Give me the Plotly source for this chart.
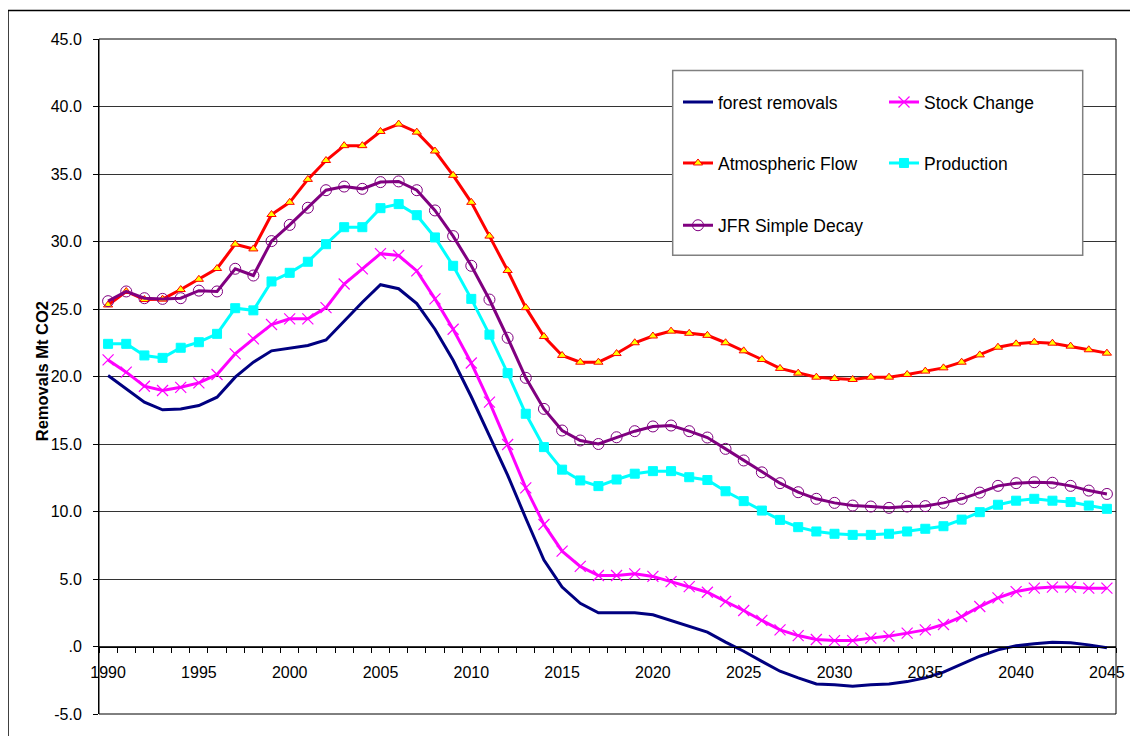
import plotly.graph_objects as go

years = list(range(1990, 2046))

forest_removals = [
    20.07, 19.09, 18.1, 17.53, 17.6, 17.85, 18.47, 19.95, 21.06, 21.9,
    22.1, 22.3, 22.7, 24.1, 25.5, 26.8, 26.5, 25.4, 23.5, 21.2,
    18.5, 15.6, 12.7, 9.5, 6.4, 4.4, 3.2, 2.5, 2.5, 2.5,
    2.35, 1.93, 1.48, 1.06, 0.32, -0.35, -1.1, -1.83, -2.32, -2.77,
    -2.84, -2.94, -2.84, -2.77, -2.6, -2.32, -1.9, -1.28, -0.72, -0.25,
    0.05, 0.2, 0.32, 0.27, 0.12, -0.1]

stock_change = [
    21.23, 20.32, 19.28, 18.96, 19.2, 19.53, 20.15, 21.68, 22.79, 23.85,
    24.27, 24.27, 25.1, 26.85, 27.97, 29.1, 28.96, 27.82, 25.75, 23.5,
    21.0, 18.1, 14.96, 11.75, 9.04, 7.06, 5.93, 5.26, 5.26, 5.38,
    5.19, 4.81, 4.44, 4.02, 3.33, 2.67, 1.93, 1.23, 0.81, 0.52,
    0.44, 0.44, 0.62, 0.77, 0.99, 1.23, 1.63, 2.22, 2.96, 3.6,
    4.07, 4.32, 4.4, 4.4, 4.32, 4.32]

atmospheric_flow = [
    25.3, 26.3, 25.7, 25.73, 26.44, 27.2, 28.0, 29.8, 29.45, 32.0,
    32.9, 34.6, 36.0, 37.1, 37.1, 38.15, 38.7, 38.1, 36.7, 34.9,
    32.9, 30.4, 27.85, 25.1, 22.96, 21.56, 21.06, 21.06, 21.7, 22.5,
    23.0, 23.36, 23.2, 23.05, 22.5, 21.9, 21.26, 20.6, 20.25, 19.95,
    19.85, 19.78, 19.95, 19.95, 20.15, 20.4, 20.64, 21.06, 21.6, 22.17,
    22.42, 22.54, 22.47, 22.25, 21.98, 21.73]

production = [
    22.42, 22.42, 21.56, 21.38, 22.13, 22.54, 23.16, 25.06, 24.9, 27.04,
    27.68, 28.5, 29.8, 31.06, 31.06, 32.47, 32.77, 31.95, 30.3, 28.2,
    25.75, 23.1, 20.25, 17.24, 14.77, 13.1, 12.3, 11.88, 12.37, 12.8,
    12.99, 12.99, 12.54, 12.33, 11.5, 10.77, 10.07, 9.38, 8.84, 8.52,
    8.35, 8.27, 8.27, 8.35, 8.52, 8.72, 8.91, 9.4, 9.95, 10.5,
    10.8, 10.94, 10.8, 10.7, 10.44, 10.2]

jfr_simple_decay = [
    25.58, 26.3, 25.8, 25.75, 25.8, 26.36, 26.3, 27.98, 27.48, 30.03,
    31.23, 32.5, 33.8, 34.07, 33.9, 34.4, 34.45, 33.8, 32.3, 30.4,
    28.2, 25.7, 22.87, 19.9, 17.6, 16.0, 15.26, 15.0, 15.5, 15.95,
    16.3, 16.37, 15.95, 15.48, 14.64, 13.78, 12.9, 12.1, 11.43, 10.94,
    10.64, 10.44, 10.37, 10.27, 10.37, 10.4, 10.64, 10.94, 11.4, 11.9,
    12.1, 12.17, 12.13, 11.9, 11.55, 11.3]

x_tick_vals = [1990, 1995, 2000, 2005, 2010, 2015, 2020, 2025, 2030, 2035, 2040, 2045]
y_tick_vals = [-5, 0, 5, 10, 15, 20, 25, 30, 35, 40, 45]
y_tick_text = ["-5.0", ".0", "5.0", "10.0", "15.0", "20.0", "25.0", "30.0", "35.0", "40.0", "45.0"]
y_title = "Removals Mt CO2"

FONT = "Liberation Sans, Arial, sans-serif"

fig = go.Figure()
fig.add_trace(go.Scatter(
    x=years, y=forest_removals, name="forest removals", mode="lines",
    line=dict(color="#000080", width=3), legend="legend"))
fig.add_trace(go.Scatter(
    x=years, y=stock_change, name="Stock Change", mode="lines+markers",
    line=dict(color="#FF00FF", width=3),
    marker=dict(symbol="x-thin-open", size=11, color="#FF00FF",
                line=dict(color="#FF00FF", width=1.2)), legend="legend"))
fig.add_trace(go.Scatter(
    x=years, y=atmospheric_flow, name="Atmospheric Flow", mode="lines+markers",
    line=dict(color="#FF0000", width=3),
    marker=dict(symbol="triangle-up", size=8, color="#FFFF00",
                line=dict(color="#FF0000", width=1)), legend="legend2"))
fig.add_trace(go.Scatter(
    x=years, y=production, name="Production", mode="lines+markers",
    line=dict(color="#00FFFF", width=3),
    marker=dict(symbol="square", size=9, color="#00FFFF",
                line=dict(color="#00FFFF", width=1)), legend="legend2"))
fig.add_trace(go.Scatter(
    x=years, y=jfr_simple_decay, name="JFR Simple Decay", mode="lines+markers",
    line=dict(color="#800080", width=3),
    marker=dict(symbol="circle-open", size=11, color="#800080",
                line=dict(color="#800080", width=1)), legend="legend3"))

# page geometry (the page body has an 8px default margin)
OFF = 8
W, H = 1138 - OFF, 736 - OFF
PL, PR, PT, PB = 99, 1116, 38.5, 714  # plot area in page pixels
L, R, T, B = PL - OFF, (1138 - PR), PT - OFF, 736 - PB
pw, ph = W - L - R, H - T - B

def px_x(p):
    return (p - OFF - L) / pw

def px_y(p):
    return (H - B - (p - OFF)) / ph

legend_common = dict(orientation="h", entrywidth=161, entrywidthmode="pixels",
                     bgcolor="rgba(0,0,0,0)", borderwidth=0,
                     font=dict(family=FONT, size=17.5, color="black"),
                     xanchor="left", yanchor="middle", x=px_x(678))

fig.update_layout(
    width=W, height=H,
    margin=dict(l=L, r=R, t=T, b=B, pad=0),
    paper_bgcolor="white", plot_bgcolor="white",
    font=dict(family=FONT, size=16, color="black"),
    showlegend=True,
    legend=dict(legend_common, y=px_y(101.7)),
    legend2=dict(legend_common, y=px_y(162.7)),
    legend3=dict(legend_common, y=px_y(225)),
    xaxis=dict(
        range=[1989.5, 2045.5], tickmode="array", tickvals=x_tick_vals,
        ticks="outside", ticklen=0, showgrid=False, zeroline=False,
        showline=True, linecolor="black", linewidth=1,
        anchor="free", position=0.1, ticklabelstandoff=11,
        tickfont=dict(family=FONT, size=16, color="black"),
        minor=dict(tick0=1989.5, dtick=1, ticks="outside", ticklen=5,
                   tickcolor="black", tickwidth=1, showgrid=False),
    ),
    yaxis=dict(
        range=[-5, 45], tickmode="array", tickvals=y_tick_vals, ticktext=y_tick_text,
        ticks="outside", ticklen=5, tickcolor="black",
        showgrid=True, gridcolor="#333333", gridwidth=1, zeroline=False,
        showline=True, linecolor="black", linewidth=1, ticklabelstandoff=8,
        tickfont=dict(family=FONT, size=16, color="black"),
    ),
    annotations=[
        dict(text="<b>" + y_title + "</b>", textangle=-90, showarrow=False,
             xref="paper", yref="paper", x=px_x(42), y=px_y(371),
             xanchor="center", yanchor="middle",
             font=dict(family=FONT, size=16.5, color="black")),
    ],
    shapes=[
        dict(type="rect", xref="paper", yref="paper", x0=0, x1=1, y0=0, y1=1,
             line=dict(color="black", width=1), layer="above"),
        dict(type="rect", xref="paper", yref="paper",
             x0=px_x(672.7), x1=px_x(1082.7), y0=px_y(255), y1=px_y(70),
             fillcolor="white", line=dict(color="#808080", width=1.5), layer="above"),
        dict(type="line", xref="paper", yref="paper",
             x0=px_x(8), x1=px_x(1145), y0=px_y(10), y1=px_y(10),
             line=dict(color="black", width=1.5)),
        dict(type="line", xref="paper", yref="paper",
             x0=px_x(8), x1=px_x(8), y0=px_y(10), y1=px_y(745),
             line=dict(color="black", width=1.5)),
    ],
)

fig.write_html("out.html")
